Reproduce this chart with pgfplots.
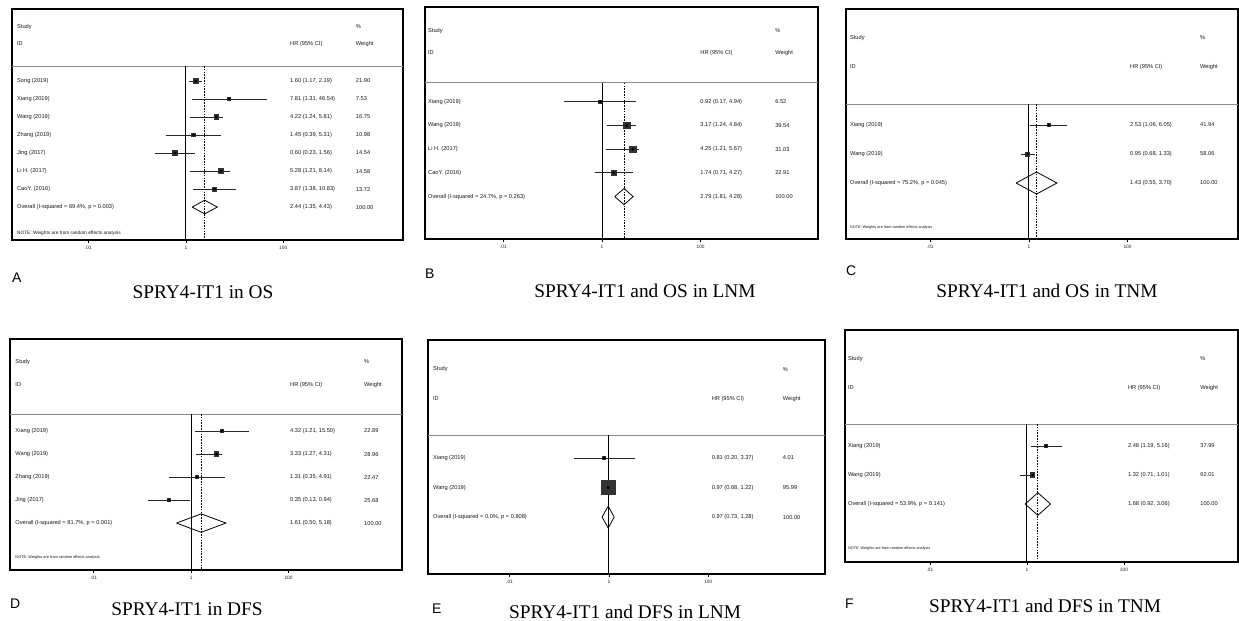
\documentclass[border=0pt]{standalone}
\usepackage{fontspec}
\setmainfont{Liberation Sans}
\newfontfamily\tnr{Liberation Serif}
\usepackage{pgfplots}
\pgfplotsset{compat=1.18}

\tikzset{txt/.style={anchor=west, inner sep=0pt, font=\fontsize{5.7}{6}\selectfont, text=black!90},
         note/.style={anchor=west, inner sep=0pt, font=\fontsize{#1}{#1}\selectfont, text=black!90}}

\pgfplotsset{myforest/.style={
  scale only axis, ymin=0,
  axis line style={line width=1.1pt, black},
  xtick={0.01,1,100}, xticklabels={.01,1,100},
  ytick=\empty,
  tick align=outside, xtick pos=bottom,
  major tick length=3bp, tick style={line width=0.6pt, black},
  xticklabel style={font=\fontsize{4.8}{5}\selectfont, text=black!85},
  /pgf/number format/assume math mode=true,
  clip=false, anchor=south west,
}}

% y, hr, lo, hi, marksize, name, hrtext, weight
\newcommand{\study}[8]{%
  \addplot[black!85, line width=0.8pt] coordinates {(#3,#1) (#4,#1)};
  \addplot[only marks, mark=square*, mark size=#5, mark options={fill=black!80, draw=black!80, line width=0pt}] coordinates {(#2,#1)};
  \addplot[only marks, mark=*, mark size=1.3, mark options={fill=black, draw=black}] coordinates {(#2,#1)};
  \node[txt] at (axis cs:\nx,#1) {#6};
  \node[txt] at (axis cs:\hx,#1) {#7};
  \node[txt] at (axis cs:\wx,#1) {#8};
}
% studyrow, idrow, seprow, ymax, overall
\newcommand{\header}[5]{%
  \node[txt] at (axis cs:\nx,#1) {Study};
  \node[txt] at (axis cs:\wx,#1) {\%};
  \node[txt] at (axis cs:\nx,#2) {ID};
  \node[txt] at (axis cs:\hx,#2) {HR (95\% CI)};
  \node[txt] at (axis cs:\wx,#2) {Weight};
  \addplot[black!45, line width=0.9pt] coordinates {(\xa,#3) (\xb,#3)};
  \addplot[black, line width=1pt] coordinates {(1,#3) (1,#4)};
  \addplot[black, line width=0.8pt, dash pattern=on 1.6pt off 1.2pt] coordinates {(#5,#3) (#5,#4)};
}

\begin{document}
\begin{tikzpicture}
\useasboundingbox (0,0) rectangle (1239bp,-621bp);
\fill[white] (0,0) rectangle (1239bp,-621bp);

% ---------------- A
\def\xa{2.69e-4}\def\xb{28840}\def\nx{0.00034}\def\hx{138}\def\wx{3090}
\begin{axis}[xmode=log, y dir=reverse, myforest, at={(12bp,-240bp)}, width=391bp, height=231bp, xmin=2.69e-4, xmax=28840, ymax=12.83]
\header{1}{1.94}{3.17}{12.83}{2.44}
\study{4}{1.60}{1.17}{2.19}{2.6}{Song (2019)}{1.60 (1.17, 2.19)}{21.90}
\study{5}{7.81}{1.31}{46.54}{1.5}{Xiang (2019)}{7.81 (1.31, 46.54)}{7.53}
\study{6}{4.22}{1.24}{5.81}{2.25}{Wang (2019)}{4.22 (1.24, 5.81)}{16.75}
\study{7}{1.45}{0.39}{5.31}{1.8}{Zhang (2019)}{1.45 (0.39, 5.31)}{10.98}
\study{8}{0.60}{0.23}{1.56}{2.1}{Jing (2017)}{0.60 (0.23, 1.56)}{14.54}
\study{9}{5.28}{1.21}{8.14}{2.1}{Li H. (2017)}{5.28 (1.21, 8.14)}{14.58}
\study{10}{3.87}{1.38}{10.83}{2.05}{CaoY. (2016)}{3.87 (1.38, 10.83)}{13.72}
\addplot[black, line width=0.8pt] coordinates {(1.35,11) (2.44,10.62) (4.43,11) (2.44,11.38) (1.35,11)};
\node[txt] at (axis cs:\nx,11) {Overall (I-squared = 69.4\%, p = 0.003)};
\node[txt] at (axis cs:\hx,11) {2.44 (1.35, 4.43)};
\node[txt] at (axis cs:\wx,11) {100.00};
\node[note=4.8] at (axis cs:\nx,12.44) {NOTE: Weights are from random effects analysis};
\end{axis}

% ---------------- B
\def\xa{2.57e-4}\def\xb{23990}\def\nx{0.000295}\def\hx{98}\def\wx{3240}
\begin{axis}[xmode=log, y dir=reverse, myforest, at={(425bp,-239bp)}, width=393bp, height=232bp, xmin=2.57e-4, xmax=23990, ymax=9.79]
\header{1}{1.94}{3.2}{9.79}{2.79}
\study{4}{0.92}{0.17}{4.94}{1.4}{Xiang (2019)}{0.92 (0.17, 4.94)}{6.52}
\study{5}{3.17}{1.24}{4.84}{3.5}{Wang (2019)}{3.17 (1.24, 4.84)}{39.54}
\study{6}{4.25}{1.21}{5.67}{3.1}{Li H. (2017)}{4.25 (1.21, 5.67)}{31.03}
\study{7}{1.74}{0.71}{4.27}{2.65}{CaoY. (2016)}{1.74 (0.71, 4.27)}{22.91}
\addplot[black, line width=0.8pt] coordinates {(1.81,8) (2.79,7.66) (4.28,8) (2.79,8.34) (1.81,8)};
\node[txt] at (axis cs:\nx,8) {Overall (I-squared = 24.7\%, p = 0.263)};
\node[txt] at (axis cs:\hx,8) {2.79 (1.81, 4.28)};
\node[txt] at (axis cs:\wx,8) {100.00};
\end{axis}

% ---------------- C
\def\xa{1.95e-4}\def\xb{17380}\def\nx{0.000234}\def\hx{112}\def\wx{2950}
\begin{axis}[xmode=log, y dir=reverse, myforest, at={(846bp,-239bp)}, width=392bp, height=230bp, xmin=1.95e-4, xmax=17380, ymax=7.93]
\header{1}{2}{3.28}{7.93}{1.43}
\study{4}{2.53}{1.06}{6.05}{1.5}{Xiang (2019)}{2.53 (1.06, 6.05)}{41.94}
\study{5}{0.95}{0.68}{1.33}{2.0}{Wang (2019)}{0.95 (0.68, 1.33)}{58.06}
\addplot[black, line width=0.8pt] coordinates {(0.55,6) (1.43,5.62) (3.70,6) (1.43,6.38) (0.55,6)};
\node[txt] at (axis cs:\nx,6) {Overall (I-squared = 75.2\%, p = 0.045)};
\node[txt] at (axis cs:\hx,6) {1.43 (0.55, 3.70)};
\node[txt] at (axis cs:\wx,6) {100.00};
\node[note=3.8] at (axis cs:\nx,7.52) {NOTE: Weights are from random effects analysis};
\end{axis}

% ---------------- D
\def\xa{1.91e-4}\def\xb{21380}\def\nx{0.000245}\def\hx{107}\def\wx{3550}
\begin{axis}[xmode=log, y dir=reverse, myforest, at={(10bp,-570bp)}, width=392bp, height=231bp, xmin=1.91e-4, xmax=21380, ymax=10.04]
\header{1}{2}{3.26}{10.04}{1.61}
\study{4}{4.32}{1.21}{15.50}{1.6}{Xiang (2019)}{4.32 (1.21, 15.50)}{22.89}
\study{5}{3.33}{1.27}{4.31}{2.2}{Wang (2019)}{3.33 (1.27, 4.31)}{28.96}
\study{6}{1.31}{0.35}{4.91}{1.6}{Zhang (2019)}{1.31 (0.35, 4.91)}{22.47}
\study{7}{0.35}{0.13}{0.94}{1.7}{Jing (2017)}{0.35 (0.13, 0.94)}{25.68}
\addplot[black, line width=0.8pt] coordinates {(0.50,8) (1.61,7.6) (5.18,8) (1.61,8.4) (0.50,8)};
\node[txt] at (axis cs:\nx,8) {Overall (I-squared = 81.7\%, p = 0.001)};
\node[txt] at (axis cs:\hx,8) {1.61 (0.50, 5.18)};
\node[txt] at (axis cs:\wx,8) {100.00};
\node[note=3.9] at (axis cs:\nx,9.5) {NOTE: Weights are from random effects analysis};
\end{axis}

% ---------------- E
\def\xa{2.29e-4}\def\xb{22390}\def\nx{0.000288}\def\hx{117}\def\wx{3160}
\begin{axis}[xmode=log, y dir=reverse, myforest, at={(428bp,-574bp)}, width=397bp, height=234bp, xmin=2.29e-4, xmax=22390, ymax=7.93]
\header{1}{2}{3.22}{7.93}{0.97}
\study{4}{0.81}{0.20}{3.37}{1.4}{Xiang (2019)}{0.81 (0.20, 3.37)}{4.01}
\study{5}{0.97}{0.68}{1.22}{7.0}{Wang (2019)}{0.97 (0.68, 1.22)}{95.99}
\addplot[black, line width=0.8pt] coordinates {(0.73,6) (0.97,5.63) (1.28,6) (0.97,6.37) (0.73,6)};
\node[txt] at (axis cs:\nx,6) {Overall (I-squared = 0.0\%, p = 0.808)};
\node[txt] at (axis cs:\hx,6) {0.97 (0.73, 1.28)};
\node[txt] at (axis cs:\wx,6) {100.00};
\end{axis}

% ---------------- F
\def\xa{1.78e-4}\def\xb{22390}\def\nx{0.000204}\def\hx{120}\def\wx{3715}
\begin{axis}[xmode=log, y dir=reverse, myforest, at={(845bp,-562bp)}, width=393bp, height=232bp, xmin=1.78e-4, xmax=22390, ymax=8.0]
\header{1}{2}{3.24}{8.0}{1.68}
\study{4}{2.48}{1.19}{5.16}{1.6}{Xiang (2019)}{2.48 (1.19, 5.16)}{37.99}
\study{5}{1.32}{0.71}{1.45}{2.1}{Wang (2019)}{1.32 (0.71, 1.01)}{62.01}
\addplot[black, line width=0.8pt] coordinates {(0.92,6) (1.68,5.61) (3.06,6) (1.68,6.39) (0.92,6)};
\node[txt] at (axis cs:\nx,6) {Overall (I-squared = 53.9\%, p = 0.141)};
\node[txt] at (axis cs:\hx,6) {1.68 (0.92, 3.06)};
\node[txt] at (axis cs:\wx,6) {100.00};
\node[note=3.8] at (axis cs:\nx,7.52) {NOTE: Weights are from random effects analysis};
\end{axis}

% ---------------- labels and titles
\tikzset{plab/.style={anchor=base west, inner sep=0pt, font=\fontsize{14}{14}\selectfont},
         ptit/.style={anchor=base, inner sep=0pt, font=\tnr\fontsize{19.4}{20}\selectfont}}
\node[plab] at (12bp,-282bp) {A};
\node[ptit] at (203bp,-298bp) {SPRY4-IT1 in OS};
\node[plab] at (425bp,-278bp) {B};
\node[ptit] at (645bp,-297bp) {SPRY4-IT1 and OS in LNM};
\node[plab] at (846bp,-275bp) {C};
\node[ptit] at (1047bp,-297bp) {SPRY4-IT1 and OS in TNM};
\node[plab] at (10bp,-608bp) {D};
\node[ptit] at (187bp,-615bp) {SPRY4-IT1 in DFS};
\node[plab] at (432bp,-613bp) {E};
\node[ptit] at (625bp,-618bp) {SPRY4-IT1 and DFS in LNM};
\node[plab] at (845bp,-608bp) {F};
\node[ptit] at (1045bp,-612bp) {SPRY4-IT1 and DFS in TNM};
\end{tikzpicture}
\end{document}
